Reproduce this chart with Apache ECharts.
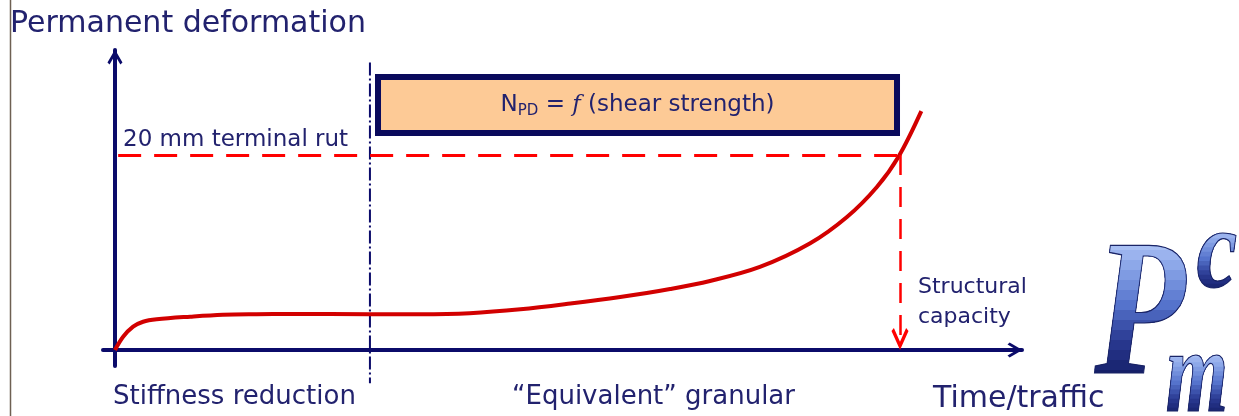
<!DOCTYPE html>
<html><head><meta charset="utf-8">
<script src="https://cdn.jsdelivr.net/npm/echarts@6/dist/echarts.min.js"></script>
<style>html,body{margin:0;padding:0;background:#fff}#c{width:1239px;height:416px}</style>
</head><body><div id="c"></div>
<script>
// ---- data (x: relative time/traffic, y: permanent deformation in mm) ----
const trafficX = [0, 0.9, 2.0, 3.1, 4.6, 8.3, 11.9, 15.6, 19.3, 28.1, 33.6, 39.1, 44.7, 50.2, 55.7, 61.2, 65.6, 71.1, 76.6, 80.7, 84.0, 86.4, 88.9];
const deformationMm = [0, 1.36, 2.39, 2.90, 3.15, 3.42, 3.62, 3.68, 3.70, 3.68, 3.68, 3.78, 4.17, 4.76, 5.44, 6.26, 7.08, 8.52, 10.92, 13.64, 16.72, 19.85, 24.5];
const terminalRutMm = 20;
const structuralCapacityX = 86.55;
const phaseBoundaryX = 28.11;
const boundaryYRange = [29.5, -3.4];
const boxXRange = [29.0, 86.22];
const boxYRange = [22.26, 28.0];
const axisTitles = ['Time/traffic', 'Permanent deformation'];
const phaseLabels = ['Stiffness reduction', '\u201CEquivalent\u201D granular'];
const rutLabel = '20 mm terminal rut';
const capacityLabel = ['Structural', 'capacity'];
const logoParts = ['P', 'c', 'm'];

const NAVY = '#0b0b6a';
const TXT = '#22226e';
const FONT = '"DejaVu Sans", Verdana, sans-serif';
const CHEVRON = 'path://M50,0 L100,86 L86,100 L50,38 L14,100 L0,86 Z';

const chart = echarts.init(document.getElementById('c'), null, {renderer: 'canvas'});
const curve = trafficX.map((x, i) => [x, deformationMm[i]]);

chart.setOption({
  animation: false,
  backgroundColor: '#ffffff',
  title: {
    text: axisTitles[1], left: 10, top: 9, padding: 0,
    textStyle: {fontFamily: FONT, fontSize: 30, fontWeight: 'normal', color: TXT, lineHeight: 30}
  },
  grid: {left: 103, right: 217, top: 50, bottom: 50},
  xAxis: {
    type: 'value', min: -1.32, max: 100,
    axisLine: {show: true, onZero: true, lineStyle: {color: NAVY, width: 4}, symbol: ['none', CHEVRON], symbolSize: [24, 15], symbolOffset: [0, -7]},
    axisTick: {show: false}, axisLabel: {show: false}, splitLine: {show: false}
  },
  yAxis: {
    type: 'value', min: -1.64, max: 30.77,
    axisLine: {show: true, onZero: true, lineStyle: {color: NAVY, width: 4}, symbol: ['none', CHEVRON], symbolSize: [24, 15], symbolOffset: [0, -7]},
    axisTick: {show: false}, axisLabel: {show: false}, splitLine: {show: false}
  },
  series: [
    {
      type: 'line', name: 'boundary', silent: true, clip: false, symbol: 'none',
      data: [[phaseBoundaryX, boundaryYRange[0]], [phaseBoundaryX, boundaryYRange[1]]],
      lineStyle: {color: NAVY, width: 2, type: [13, 3, 2, 3]}, z: 2
    },
    {
      type: 'line', name: 'Permanent deformation', silent: true, symbol: 'none',
      smooth: 0.35, data: curve,
      lineStyle: {color: '#d20000', width: 4}, z: 3,
      markArea: {
        silent: true,
        itemStyle: {color: '#fdca96', borderColor: '#0a0a5c', borderWidth: 6, opacity: 1},
        label: {
          show: true, position: 'inside',
          formatter: '{n|N}{s|PD}{t| = }{f|f}{t| (shear strength)}',
          rich: {
            n: {fontFamily: FONT, fontSize: 23, color: TXT, lineHeight: 28, verticalAlign: 'middle'},
            s: {fontFamily: FONT, fontSize: 15, color: TXT, lineHeight: 28, verticalAlign: 'bottom'},
            t: {fontFamily: FONT, fontSize: 23, color: TXT, lineHeight: 28, verticalAlign: 'middle'},
            f: {fontFamily: '"DejaVu Serif", serif', fontStyle: 'italic', fontSize: 23, color: TXT, lineHeight: 28, verticalAlign: 'middle'}
          }
        },
        data: [[{coord: [boxXRange[0], boxYRange[1]]}, {coord: [boxXRange[1], boxYRange[0]]}]]
      },
      markLine: {
        silent: true, symbol: ['none', 'none'], label: {show: false},
        data: [
          [{coord: [0.35, terminalRutMm], lineStyle: {color: '#ff0000', width: 3, type: [23, 13]}},
           {coord: [structuralCapacityX, terminalRutMm]}],
          [{coord: [structuralCapacityX, terminalRutMm], lineStyle: {color: '#ff0000', width: 2.5, type: [20, 12]}},
           {coord: [structuralCapacityX, 1.13], symbol: CHEVRON, symbolSize: [17, 22]}]
        ]
      }
    }
  ],
  graphic: [
    {type: 'line', shape: {x1: 10.5, y1: 0, x2: 10.5, y2: 416}, style: {stroke: '#6e6052', lineWidth: 1.5}, silent: true},
    {type: 'text', x: 123, y: 140, style: {text: rutLabel, font: '23px ' + FONT, fill: TXT, verticalAlign: 'middle'}},
    {type: 'text', x: 113, y: 397, style: {text: phaseLabels[0], font: '26px ' + FONT, fill: TXT, verticalAlign: 'middle'}},
    {type: 'text', x: 512, y: 397, style: {text: phaseLabels[1], font: '26px ' + FONT, fill: TXT, verticalAlign: 'middle'}},
    {type: 'text', x: 933, y: 399, style: {text: axisTitles[0], font: '30px ' + FONT, fill: TXT, verticalAlign: 'middle'}},
    {type: 'text', x: 918, y: 287, style: {text: capacityLabel[0], font: '22px ' + FONT, fill: TXT, verticalAlign: 'middle'}},
    {type: 'text', x: 918, y: 317, style: {text: capacityLabel[1], font: '22px ' + FONT, fill: TXT, verticalAlign: 'middle'}}
  ]
});

// Logo "P m c": vertical light-to-dark blue shading built from clipped text layers
const logoColors = ['#b6caf8', '#86a2e6', '#5573cc', '#2a3a92', '#151f68'];
const logoSpec = [
  {t: logoParts[0], x: 1140, y: 322, sx: 0.76, size: 196, top: -82, bot: 58},
  {t: logoParts[1], x: 1217, y: 257, sx: 0.8, size: 115, top: -28, bot: 36},
  {t: logoParts[2], x: 1197, y: 381, sx: 0.68, size: 118, top: -28, bot: 36}
];
const zr = chart.getZr();
const BANDS = 14;
logoSpec.forEach(s => {
  const font = 'italic bold ' + s.size + 'px "Liberation Serif", serif';
  const base = {x: s.x, y: s.y, scaleX: s.sx, silent: true};
  zr.add(new echarts.graphic.Text(Object.assign({}, base, {z: 100, style: {
    text: s.t, font: font, fill: logoColors[logoColors.length - 1], align: 'center', verticalAlign: 'middle',
    shadowBlur: 3, shadowOffsetX: 2, shadowOffsetY: 2, shadowColor: 'rgba(0,0,0,0.35)'}})));
  for (let k = 1; k < BANDS; k++) {
    const yEdge = s.bot - (s.bot - s.top) * k / BANDS;
    const el = new echarts.graphic.Text(Object.assign({}, base, {z: 100 + k, style: {
      text: s.t, font: font, fill: echarts.color.lerp(1 - k / BANDS, logoColors), align: 'center', verticalAlign: 'middle'}}));
    el.setClipPath(new echarts.graphic.Rect({shape: {x: -300, y: -300, width: 600, height: yEdge + 300}}));
    zr.add(el);
  }
  zr.add(new echarts.graphic.Text(Object.assign({}, base, {z: 200, style: {
    text: s.t, font: font, fill: 'none', stroke: '#1a2466', lineWidth: 1.2, align: 'center', verticalAlign: 'middle'}})));
});
</script></body></html>
